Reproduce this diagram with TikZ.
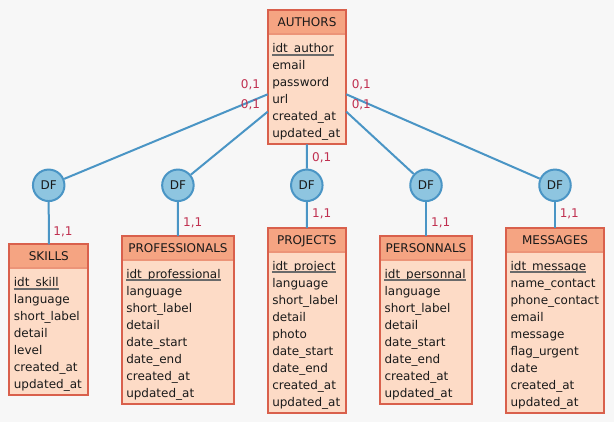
\documentclass[tikz,border=0pt]{standalone}
\usepackage{fontspec}
\setmainfont{DejaVu Sans}
\usetikzlibrary{calc}
\definecolor{bgc}{HTML}{F7F7F7}
\definecolor{boxborder}{HTML}{D9604C}
\definecolor{headfill}{HTML}{F5A482}
\definecolor{bodyfill}{HTML}{FDDBC6}
\definecolor{sepline}{HTML}{EC9478}
\definecolor{dffill}{HTML}{8EC5E0}
\definecolor{dfline}{HTML}{4A95C5}
\definecolor{cardc}{HTML}{C03050}
\definecolor{txtc}{HTML}{1A1A1A}
\definecolor{ulc}{HTML}{6A6A6A}
\tikzset{
  entbox/.style={fill=bodyfill, inner sep=0pt, outer sep=0pt, anchor=north west},
  entitle/.style={anchor=base, inner sep=0pt, font=\fontsize{9}{11}\selectfont, text=txtc},
  entattr/.style={anchor=base west, inner sep=0pt, font=\fontsize{9}{11}\selectfont, text=txtc},
  dfnode/.style={circle, draw=dfline, line width=1.5pt, fill=dffill, minimum size=31.5*0.75pt, inner sep=0pt, font=\fontsize{9}{11}\selectfont, text=txtc},
  link/.style={draw=dfline, line width=1.5pt},
  card/.style={inner sep=0pt, font=\fontsize{9}{11}\selectfont, text=cardc}
}
% #1 name, #2 left, #3 top, #4 width, #5 rows, #6 title, #7 key attr, #8 other attrs
\newcommand{\entity}[8]{%
  \node[entbox, minimum width=#4*0.75pt, minimum height={(34+17*#5)*0.75pt}] (#1) at (#2,#3) {};
  \fill[headfill] ($(#1.north west)+(1,1)$) rectangle ($(#1.north east)+(-1,25)$);
  \draw[sepline, line width=1.5pt] ($(#1.north west)+(1,25)$) -- ($(#1.north east)+(-1,25)$);
  \draw[boxborder, line width=1.5pt] ($(#1.north west)+(1,1)$) rectangle ($(#1.south east)+(-1,-1)$);
  \node[entitle] (#1-t) at ($(#1.north)+(0,17.5)$) {#6};
  \node[entattr] (#1-k) at ($(#1.north west)+(5.3,43)$) {#7};
  \draw[ulc, line width=1.5pt] ($(#1-k.base west)+(0,2.2)$) -- ($(#1-k.base east)+(0,2.2)$);
  \foreach \a [count=\i] in {#8} {
    \node[entattr] (#1-\i) at ($(#1.north west)+(5.3,43+17*\i)$) {\a};
  }
}
\begin{document}
\begin{tikzpicture}[x=0.75pt,y=-0.75pt]
\fill[bgc] (0,0) rectangle (614,422);
\useasboundingbox (0,0) rectangle (614,422);

\entity{authors}{266.7}{9.3}{80.6}{6}{AUTHORS}{idt\_author}{email,password,url,created\_at,updated\_at}
\entity{skills}{8.3}{243.3}{81}{7}{SKILLS}{idt\_skill}{language,short\_label,detail,level,created\_at,updated\_at}
\entity{profs}{120.7}{235}{114.6}{8}{PROFESSIONALS}{idt\_professional}{language,short\_label,detail,date\_start,date\_end,created\_at,updated\_at}
\entity{projects}{266.7}{227}{80.3}{9}{PROJECTS}{idt\_project}{language,short\_label,detail,photo,date\_start,date\_end,created\_at,updated\_at}
\entity{personnals}{379}{235}{94}{8}{PERSONNALS}{idt\_personnal}{language,short\_label,detail,date\_start,date\_end,created\_at,updated\_at}
\entity{messages}{505}{227}{100}{9}{MESSAGES}{idt\_message}{name\_contact,phone\_contact,email,message,flag\_urgent,date,created\_at,updated\_at}

\node[dfnode] (df1) at (48.7,185.3) {DF};
\node[dfnode] (df2) at (177.9,185.3) {DF};
\node[dfnode] (df3) at (306.8,185.3) {DF};
\node[dfnode] (df4) at (426,185.3) {DF};
\node[dfnode] (df5) at (555,185.3) {DF};

\coordinate (aL1) at ($(authors.north west)+(1,85)$);
\coordinate (aL2) at ($(authors.north west)+(1,102.4)$);
\coordinate (aR1) at ($(authors.north east)+(-1,85)$);
\coordinate (aR2) at ($(authors.north east)+(-1,102.4)$);

\path[link] (aL1) -- (df1);
\path[link] (aL2) -- (df2);
\path[link] ($(authors.south)+(0,-1)$) -- (df3);
\path[link] (aR2) -- (df4);
\path[link] (aR1) -- (df5);
\path[link] (df1) -- ($(skills.north)+(0,1)$);
\path[link] (df2) -- ($(profs.north)+(0,1)$);
\path[link] (df3) -- ($(projects.north)+(0,1)$);
\path[link] (df4) -- ($(personnals.north)+(0,1)$);
\path[link] (df5) -- ($(messages.north)+(0,1)$);

\node[card] (c1) at (250.5,85) {0,1};
\node[card] (c2) at (250.5,104.5) {0,1};
\node[card] (c3) at (361.3,85) {0,1};
\node[card] (c4) at (361.3,104.5) {0,1};
\node[card] (c5) at (321.7,157.3) {0,1};
\node[card] (c6) at (63,231.7) {1,1};
\node[card] (c7) at (192.7,222.7) {1,1};
\node[card] (c8) at (321.7,214.3) {1,1};
\node[card] (c9) at (440.7,222.7) {1,1};
\node[card] (c10) at (569.3,214.3) {1,1};
\end{tikzpicture}
\end{document}
